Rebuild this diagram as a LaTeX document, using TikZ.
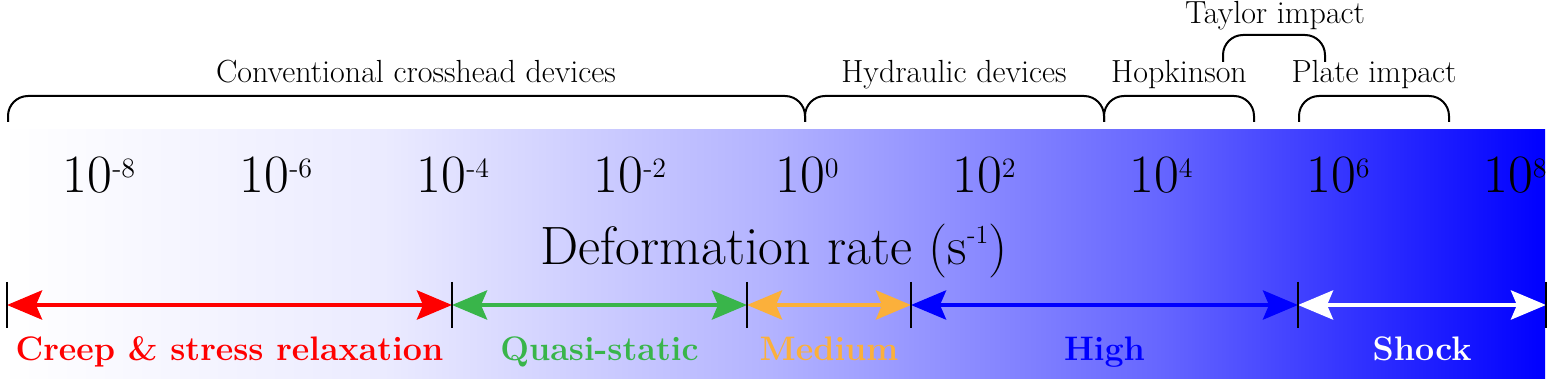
\documentclass[tikz,border=0pt]{standalone}
\usetikzlibrary{arrows.meta}

\definecolor{qsgreen}{RGB}{57,181,74}
\definecolor{medorange}{RGB}{251,176,59}
\pgfdeclarehorizontalshading{ratefade}{100bp}{color(0bp)=(white); color(25bp)=(white); color(37.5bp)=(blue!8); color(50bp)=(blue!30); color(62.5bp)=(blue!60); color(75bp)=(blue); color(100bp)=(blue)}
\newcommand{\supx}[3][7.5pt]{\raisebox{#1}{\fontsize{#2}{#2}\selectfont #3}}

\begin{document}
\begin{tikzpicture}[x=0.5pt,y=-0.5pt,
   bracket/.style={line width=1pt,rounded corners=10pt},
   devlbl/.style={anchor=base,font=\fontsize{16}{19}\selectfont},
   ratenum/.style={anchor=base,font=\fontsize{27}{32}\selectfont},
   rangelbl/.style={anchor=base,font=\fontsize{17}{20}\selectfont\bfseries},
   span/.style={line width=2.2pt,{Stealth[length=17.5pt,width=14.5pt,inset=3pt]}-{Stealth[length=17.5pt,width=14.5pt,inset=3pt]}},
   tick/.style={line width=1pt}]
   \useasboundingbox (0,0) rectangle (1548,379);
   \shade[shading=ratefade] (0,130) rectangle (1545,378);

   % devices
   \coordinate (c0) at (8,122);
   \coordinate (c1) at (805,122);
   \coordinate (c2) at (1104,122);
   \coordinate (c3) at (1254,122);
   \coordinate (c4) at (1299,122);
   \coordinate (c5) at (1449,122);
   \coordinate (t0) at (1223,62);
   \coordinate (t1) at (1325,62);
   \draw[bracket] (c0) -- ++(0,-26) -| (c1);
   \draw[bracket] (c1) -- ++(0,-26) -| (c2);
   \draw[bracket] (c2) -- ++(0,-26) -| (c3);
   \draw[bracket] (c4) -- ++(0,-26) -| (c5);
   \draw[bracket] (t0) -- ++(0,-27) -| (t1);
   \node[devlbl] (conv) at (416,83) {Conventional crosshead devices};
   \node[devlbl] (hydr) at (954,83) {Hydraulic devices};
   \node[devlbl] (hopk) at (1179,83) {Hopkinson};
   \node[devlbl] (plate) at (1374,83) {Plate impact};
   \node[devlbl] (taylor) at (1275,24) {Taylor impact};

   % rate scale
   \foreach \e [count=\i] in {-8,-6,...,8}
      \node[ratenum] (r\i) at ({807+88.5*\e},193) {10\supx{14}{\e}};
   \node[ratenum] (rate) at (774,265) {Deformation rate (s\supx[10.5pt]{13}{-1})};

   % regimes
   \foreach \x [count=\i from 0] in {7,452,747,911,1298,1546}
      \coordinate (k\i) at (\x,305);
   \draw[span,red] (k0) -- (k1);
   \draw[span,qsgreen] (k1) -- (k2);
   \draw[span,medorange] (k2) -- (k3);
   \draw[span,blue] (k3) -- (k4);
   \draw[span,white] (k4) -- (k5);
   \foreach \i in {0,...,5}
      \draw[tick] (k\i) ++(0,-23) -- ++(0,46);
   \node[rangelbl,text=red] (creep) at (229.5,361) {Creep \& stress relaxation};
   \node[rangelbl,text=qsgreen] (quasi) at (599.5,361) {Quasi-static};
   \node[rangelbl,text=medorange] (medium) at (829,361) {Medium};
   \node[rangelbl,text=blue] (high) at (1104.5,361) {High};
   \node[rangelbl,text=white] (shock) at (1422,361) {Shock};
\end{tikzpicture}
\end{document}
